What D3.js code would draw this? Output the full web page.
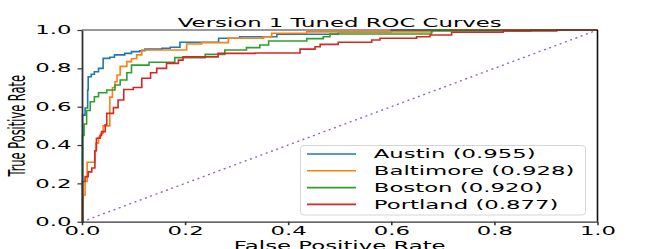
<!DOCTYPE html>
<html>
<head>
<meta charset="utf-8">
<script src="https://cdn.jsdelivr.net/npm/d3@7"></script>
<style>
  body { margin: 0; background: #fff; }
  svg { display: block; }
  text { font-family: "DejaVu Sans", sans-serif; }
</style>
</head>
<body>
<script>
var cities = ["Austin", "Baltimore", "Boston", "Portland"];
var aucs = ["0.955", "0.928", "0.920", "0.877"];
var colors = ["#1f77b4", "#ff7f0e", "#2ca02c", "#d62728"];

// step corners of each ROC curve (fpr where the curve rises, tpr it rises to)
var fprAustin = [0, 0.001, 0.006, 0.011, 0.012, 0.018, 0.024, 0.032, 0.041, 0.054, 0.063, 0.083, 0.096, 0.112, 0.122, 0.155, 0.171, 0.19, 0.265, 0.306, 0.378, 0.497, 0.6, 1];
var tprAustin = [0, 0.556, 0.593, 0.687, 0.756, 0.769, 0.782, 0.80, 0.852, 0.858, 0.87, 0.878, 0.887, 0.892, 0.9, 0.905, 0.91, 0.936, 0.957, 0.965, 0.978, 0.99, 1, 1];

var fprBaltimore = [0, 0.002, 0.006, 0.01, 0.025, 0.027, 0.032, 0.036, 0.041, 0.054, 0.059, 0.064, 0.068, 0.074, 0.087, 0.096, 0.106, 0.116, 0.203, 0.232, 0.284, 0.352, 0.368, 0.436, 0.68, 1];
var tprBaltimore = [0, 0.14, 0.21, 0.31, 0.37, 0.41, 0.44, 0.46, 0.5, 0.65, 0.70, 0.73, 0.765, 0.81, 0.835, 0.85, 0.87, 0.896, 0.927, 0.934, 0.957, 0.965, 0.983, 0.99, 1, 1];

var fprBoston = [0, 0.001, 0.004, 0.009, 0.016, 0.024, 0.032, 0.048, 0.064, 0.074, 0.087, 0.096, 0.13, 0.18, 0.239, 0.277, 0.319, 0.345, 0.362, 0.436, 0.468, 0.481, 0.678, 0.87, 1];
var tprBoston = [0, 0.45, 0.51, 0.58, 0.626, 0.652, 0.673, 0.687, 0.713, 0.739, 0.777, 0.817, 0.832, 0.856, 0.873, 0.896, 0.908, 0.922, 0.943, 0.955, 0.965, 0.979, 0.995, 1, 1];

var fprPortland = [0, 0.001, 0.006, 0.012, 0.019, 0.025, 0.028, 0.035, 0.038, 0.045, 0.048, 0.061, 0.070, 0.081, 0.0995, 0.116, 0.133, 0.145, 0.164, 0.187, 0.196, 0.264, 0.336, 0.423, 0.452, 0.462, 0.497, 0.562, 0.578, 0.649, 0.675, 0.717, 0.817, 0.921, 1];
var tprPortland = [0, 0.21, 0.235, 0.26, 0.28, 0.37, 0.435, 0.45, 0.47, 0.505, 0.565, 0.595, 0.635, 0.69, 0.70, 0.748, 0.777, 0.80, 0.826, 0.843, 0.86, 0.878, 0.88, 0.9, 0.913, 0.925, 0.936, 0.948, 0.957, 0.965, 0.974, 0.988, 0.995, 1, 1];

var fprs = [fprAustin, fprBaltimore, fprBoston, fprPortland];
var tprs = [tprAustin, tprBaltimore, tprBoston, tprPortland];

var ticks = [0, 0.2, 0.4, 0.6, 0.8, 1.0];

var width = 664;
var height = 249;
var margin = {left: 82, right: 66.5, top: 30, bottom: 27.3};
var fs = 11.4;

var x = d3.scaleLinear().domain([0, 1]).range([margin.left, width - margin.right]);
var y = d3.scaleLinear().domain([0, 1]).range([height - margin.bottom, margin.top]);

var svg = d3.select("body").append("svg")
    .attr("width", width)
    .attr("height", height);

var line = d3.line()
    .x(function(d){ return x(d[0]); })
    .y(function(d){ return y(d[1]); })
    .curve(d3.curveStepAfter);

// chance diagonal
svg.append("path")
    .datum([[0, 0], [1, 1]])
    .attr("d", d3.line().x(function(d){ return x(d[0]); }).y(function(d){ return y(d[1]); }))
    .attr("fill", "none")
    .attr("stroke", "#9467bd")
    .attr("stroke-width", 1.4)
    .attr("stroke-dasharray", "2,3.6");

svg.selectAll("path.roc")
    .data(cities)
    .enter().append("path")
      .attr("class", "roc")
      .attr("d", function(d, i){ return line(d3.zip(fprs[i], tprs[i])); })
      .attr("fill", "none")
      .attr("stroke", function(d, i){ return colors[i]; })
      .attr("stroke-width", 1.6);

// spines
svg.append("line").attr("x1", x(0)).attr("x2", x(1)).attr("y1", y(1)).attr("y2", y(1))
    .attr("stroke", "#333").attr("stroke-width", 1.2);
svg.append("line").attr("x1", x(1)).attr("x2", x(1)).attr("y1", y(0)).attr("y2", y(1))
    .attr("stroke", "#111").attr("stroke-width", 1.6);

var yAxis = d3.axisLeft(y).tickValues(ticks).tickFormat(d3.format(".1f")).tickSize(4.5).tickSizeOuter(0);
var xAxis = d3.axisBottom(x).tickValues(ticks).tickFormat(d3.format(".1f")).tickSize(3.5).tickSizeOuter(0);

var gy = svg.append("g")
    .attr("transform", "translate(" + margin.left + ",0)")
    .call(yAxis);
gy.select(".domain").attr("stroke", "#333").attr("stroke-width", 1.8);
gy.selectAll(".tick line").attr("stroke", "#333").attr("stroke-width", 1.2);
gy.selectAll(".tick text")
    .attr("x", -5.2)
    .attr("transform", "scale(2,1)")
    .attr("fill", "#000")
    .style("font-size", fs + "px");

var gx = svg.append("g")
    .attr("transform", "translate(0," + (height - margin.bottom) + ")")
    .call(xAxis);
gx.select(".domain").attr("stroke", "#333").attr("stroke-width", 1.2);
gx.selectAll(".tick line").attr("stroke", "#333").attr("stroke-width", 1.6);
gx.selectAll(".tick text")
    .attr("y", 5)
    .attr("transform", "scale(2,1)")
    .attr("fill", "#000")
    .style("font-size", fs + "px");

// title and axis labels
svg.append("text")
    .attr("transform", "translate(" + (x(0.5)) + ",27) scale(2,1)")
    .attr("text-anchor", "middle")
    .style("font-size", fs + "px")
    .text("Version 1 Tuned ROC Curves");

svg.append("text")
    .attr("transform", "translate(" + (x(0.5)) + ",250) scale(2,1)")
    .attr("text-anchor", "middle")
    .style("font-size", fs + "px")
    .text("False Positive Rate");

svg.append("text")
    .attr("transform", "translate(25," + y(0.5) + ") rotate(-90) scale(1,2)")
    .attr("text-anchor", "middle")
    .style("font-size", fs + "px")
    .text("True Positive Rate");

// legend
var legend = svg.append("g");
legend.append("rect")
    .attr("x", 300.5).attr("y", 145.5)
    .attr("width", 285).attr("height", 69.5)
    .attr("rx", 4).attr("ry", 2.5)
    .attr("fill", "#fff").attr("fill-opacity", 0.8)
    .attr("stroke", "#d6d6d6").attr("stroke-width", 1);

var rows = legend.selectAll("g.row")
    .data(cities)
    .enter().append("g")
      .attr("class", "row")
      .attr("transform", function(d, i){ return "translate(0," + (154 + i * 16.8) + ")"; });

rows.append("line")
    .attr("x1", 307).attr("x2", 356)
    .attr("stroke", function(d, i){ return colors[i]; })
    .attr("stroke-width", 1.6);

rows.append("text")
    .attr("transform", "scale(2,1)")
    .attr("x", 186.9)
    .attr("dy", "0.36em")
    .style("font-size", fs + "px")
    .text(function(d, i){ return d + " (" + aucs[i] + ")"; });
</script>
</body>
</html>
